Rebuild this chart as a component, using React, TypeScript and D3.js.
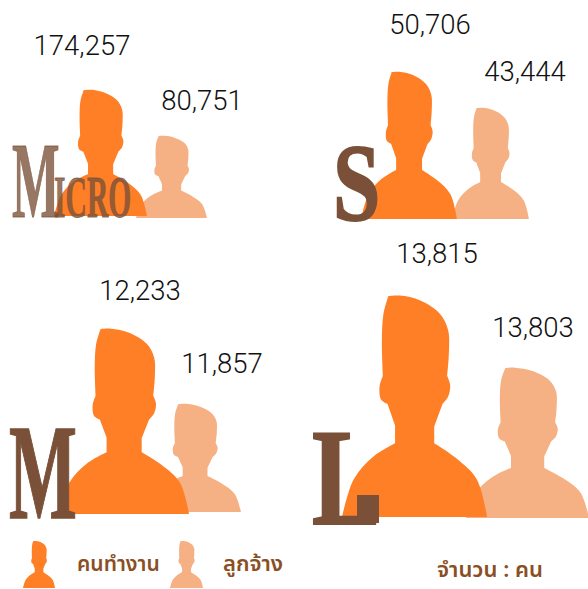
import React from "react";
import * as d3 from "d3";

const sizes = ["Micro", "S", "M", "L"];
const workers = [174257, 50706, 12233, 13815];
const employees = [80751, 43444, 11857, 13803];
const legendLabels = ["คนทำงาน", "ลูกจ้าง"];
const unitLabel = "จำนวน : คน";

const DARK = "#ff7f27";
const LIGHT = "#f5b183";
const BROWN = "#7a5138";
const NUM_FONT = "Roboto,'Noto Sans',sans-serif";
const THAI_FONT = "'Noto Sans','Noto Sans Thai','DejaVu Sans',sans-serif";

// Silhouette outline in a unit box, split at its sharp corners.
const outline: [number, number][][] = [
  [[0, 1], [0.08, 0.83], [0.215, 0.727], [0.366, 0.666]],
  [[0.366, 0.666], [0.366, 0.586]],
  [[0.366, 0.586], [0.314, 0.489]],
  [[0.314, 0.489], [0.27, 0.47], [0.259, 0.41], [0.282, 0.361]],
  [[0.282, 0.361], [0.275, 0.2], [0.286, 0.08], [0.32, 0]],
  [[0.32, 0], [0.4, -0.002], [0.54, 0.02], [0.675, 0.08], [0.732, 0.155], [0.737, 0.26], [0.725, 0.361]],
  [[0.725, 0.361], [0.746, 0.403], [0.732, 0.455], [0.693, 0.489]],
  [[0.693, 0.489], [0.636, 0.59]],
  [[0.636, 0.59], [0.636, 0.666]],
  [[0.636, 0.666], [0.79, 0.735], [0.93, 0.83], [1, 1]],
];

function silhouette(x0: number, x1: number, y0: number, y1: number) {
  const sx = d3.scaleLinear().domain([0, 1]).range([x0, x1]);
  const sy = d3.scaleLinear().domain([0, 1]).range([y0, y1]);
  const line = d3
    .line<[number, number]>()
    .x((d) => sx(d[0]))
    .y((d) => sy(d[1]))
    .curve(d3.curveCatmullRom.alpha(0.5));
  return (
    outline
      .map((seg, i) => {
        const s = line(seg) as string;
        return i === 0 ? s : "L" + s.slice(1);
      })
      .join("") + "Z"
  );
}

const boxes = [
  { dark: [54, 147, 90, 216], light: [136, 207, 136, 218], a: [82, 55], b: [202, 110] },
  { dark: [361, 457, 72, 219], light: [452, 529, 108, 219], a: [430, 34], b: [525, 81] },
  { dark: [59, 189, 329, 514], light: [149, 241, 404, 512], a: [140, 300], b: [222, 373] },
  { dark: [342, 487, 296, 517], light: [466, 589, 368, 518], a: [437, 263], b: [533, 337] },
];

const fmt = d3.format(",");

function Serif({ x, y, sx, sy, size, fill, opacity, stroke, children }: any) {
  return (
    <text
      transform={`translate(${x},${y}) scale(${sx},${sy})`}
      fontFamily="'Liberation Serif',serif"
      fontWeight={700}
      fontSize={size}
      fill={fill}
      fillOpacity={opacity}
      stroke={fill}
      strokeOpacity={opacity}
      strokeWidth={stroke || 0}
    >
      {children}
    </text>
  );
}

export default function App() {
  return (
    <svg
      width={588}
      height={589}
      viewBox="0 0 588 589"
      style={{ position: "absolute", left: 0, top: 0, background: "#fff" }}
    >
      {sizes.map((name, i) => {
        const b = boxes[i];
        return (
          <g key={name}>
            <path d={silhouette(b.light[0], b.light[1], b.light[2], b.light[3])} fill={LIGHT} />
            <path d={silhouette(b.dark[0], b.dark[1], b.dark[2], b.dark[3])} fill={DARK} />
            <text x={b.a[0]} y={b.a[1]} textAnchor="middle" fontFamily={NUM_FONT} fontWeight={300} fontSize={27.5} fill="#111">
              {fmt(workers[i])}
            </text>
            <text x={b.b[0]} y={b.b[1]} textAnchor="middle" fontFamily={NUM_FONT} fontWeight={300} fontSize={27.5} fill="#111">
              {fmt(employees[i])}
            </text>
          </g>
        );
      })}

      <Serif x={12} y={217} sx={0.72} sy={1.55} size={70} fill={BROWN} opacity={0.78} stroke={0.6}>M</Serif>
      <Serif x={54} y={217} sx={0.74} sy={1.5} size={40} fill={BROWN} opacity={0.78} stroke={0.6}>ICRO</Serif>
      <Serif x={333} y={220} sx={1.0} sy={1.3} size={85} fill={BROWN} stroke={1.5}>S</Serif>
      <Serif x={9} y={518} sx={0.8} sy={1.5} size={90} fill={BROWN} stroke={1}>M</Serif>
      <Serif x={312} y={524} sx={1.1} sy={1.45} size={95} fill={BROWN} stroke={1.5}>L</Serif>
      <rect x={357} y={495} width={22} height={28} fill={BROWN} />

      <path d={silhouette(23, 55, 541, 588)} fill={DARK} />
      <path d={silhouette(170, 203, 541, 588)} fill={LIGHT} />
      <text x={77} y={571} fontFamily={THAI_FONT} fontWeight={600} fontSize={21} fill="#8a4f24">{legendLabels[0]}</text>
      <text x={223} y={571} fontFamily={THAI_FONT} fontWeight={600} fontSize={22} fill="#8a4f24">{legendLabels[1]}</text>
      <text x={437} y={577} fontFamily={THAI_FONT} fontWeight={600} fontSize={22} fill="#8a4f24">{unitLabel}</text>
    </svg>
  );
}
